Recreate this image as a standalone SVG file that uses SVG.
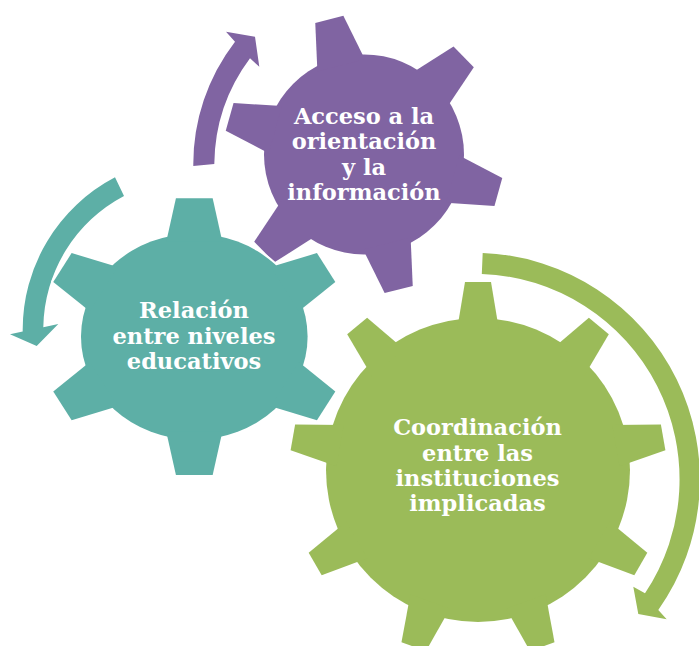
<svg xmlns="http://www.w3.org/2000/svg" xmlns:xlink="http://www.w3.org/1999/xlink" width="699" height="646" viewBox="0 0 699 646">
  <style>
    .halo { fill: #ffffff; stroke: #ffffff; stroke-width: 4; stroke-linejoin: round; }
    .green { fill: #9BBB59; }
    .purple { fill: #8064A2; }
    .teal { fill: #5DAFA6; }
    .label { font-family: "DejaVu Serif", "Liberation Serif", serif; font-weight: bold; font-size: 22.5px; fill: #ffffff; text-anchor: middle; }
  </style>
  <defs>
    <polygon id="toothG" points="-13,-188 13,-188 21,-140 -21,-140"/>
    <polygon id="toothP" points="-14.5,-139.5 14.5,-139.5 24.5,-92 -24.5,-92"/>
    <polygon id="toothT" points="-16.7,-138.4 16.7,-138.4 25.5,-95 -25.5,-95"/>
    <g id="shapeG">
      <circle r="152"/>
      <use href="#toothG"/>
      <use href="#toothG" transform="rotate(40)"/>
      <use href="#toothG" transform="rotate(80)"/>
      <use href="#toothG" transform="rotate(120)"/>
      <use href="#toothG" transform="rotate(160)"/>
      <use href="#toothG" transform="rotate(200)"/>
      <use href="#toothG" transform="rotate(240)"/>
      <use href="#toothG" transform="rotate(280)"/>
      <use href="#toothG" transform="rotate(320)"/>
    </g>
    <g id="shapeP">
      <circle r="100"/>
      <use href="#toothP" transform="rotate(-14.4)"/>
      <use href="#toothP" transform="rotate(45.6)"/>
      <use href="#toothP" transform="rotate(105.6)"/>
      <use href="#toothP" transform="rotate(165.6)"/>
      <use href="#toothP" transform="rotate(225.6)"/>
      <use href="#toothP" transform="rotate(285.6)"/>
    </g>
    <g id="shapeT">
      <circle r="103"/>
      <use href="#toothT"/>
      <use href="#toothT" transform="rotate(60)"/>
      <use href="#toothT" transform="rotate(120)"/>
      <use href="#toothT" transform="rotate(180)"/>
      <use href="#toothT" transform="rotate(240)"/>
      <use href="#toothT" transform="rotate(300)"/>
    </g>
  </defs>

  <g id="connectors">
    <path class="purple" d="M 193.3,166 A 200.7 200.7 0 0 1 235,41.7 L 226,31.7 L 255,36.7 L 259.3,66.7 L 250,58.3 A 179.7 179.7 0 0 0 214.3,164 Z"/>
    <path class="teal" d="M 115,177.3 A 172 172 0 0 0 22.7,331.6 L 10,334.3 L 36.7,346 L 58.3,324 L 43.3,327.2 A 151 151 0 0 1 124,196 Z"/>
    <path class="green" d="M 482.7,252.9 A 226.5 226.5 0 0 1 658.3,610 L 666.7,619.3 L 638.3,614 L 633.3,586.7 L 645,593.3 A 205.5 205.5 0 0 0 481.8,273.9 Z"/>
  </g>

  <g id="node-acceso">
    <g transform="translate(364,154.4)">
      <use href="#shapeP" class="halo"/>
      <use href="#shapeP" class="purple"/>
    </g>
    <text class="label" x="364" y="124">Acceso a la</text>
    <text class="label" x="364" y="149.3">orientación</text>
    <text class="label" x="364" y="174.6">y la</text>
    <text class="label" x="364" y="200">información</text>
  </g>

  <g id="node-relacion">
    <g transform="translate(194.3,336.7) scale(1.1,1)">
      <use href="#shapeT" class="halo"/>
      <use href="#shapeT" class="teal"/>
    </g>
    <text class="label" x="194" y="318.3">Relación</text>
    <text class="label" x="194" y="344">entre niveles</text>
    <text class="label" x="194" y="369.3">educativos</text>
  </g>

  <g id="node-coordinacion">
    <g transform="translate(478,470)">
      <use href="#shapeG" class="halo"/>
      <use href="#shapeG" class="green"/>
    </g>
    <text class="label" x="477.5" y="435">Coordinación</text>
    <text class="label" x="477.5" y="460.5">entre las</text>
    <text class="label" x="477.5" y="485.8">instituciones</text>
    <text class="label" x="477.5" y="511">implicadas</text>
  </g>
</svg>
